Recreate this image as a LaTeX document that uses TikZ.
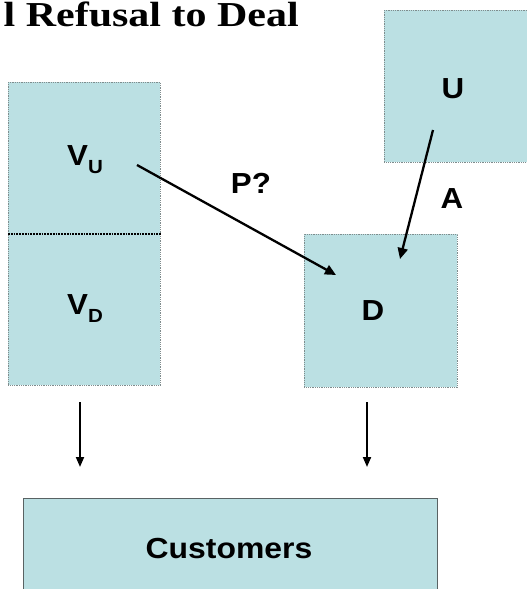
\documentclass[tikz,border=0pt]{standalone}
\usepackage{fontspec}
\setmainfont{Liberation Serif}
\newfontfamily\arialfont{Liberation Sans}
\usetikzlibrary{arrows.meta}
\definecolor{boxfill}{HTML}{BBE0E3}
\definecolor{boxline}{HTML}{7F8C8D}
\newcommand{\widen}[2]{\scalebox{#1}[1]{#2}}
\tikzset{
  x=1pt, y=-1pt,
  panel/.style={draw=boxline, densely dotted, line width=0.8pt, fill=boxfill, inner sep=0pt, anchor=north west},
  custpanel/.style={draw=boxline!70!black, line width=0.8pt, fill=boxfill, inner sep=0pt, anchor=north west},
  lbl/.style={font=\arialfont\bfseries\fontsize{29}{30}\selectfont, inner sep=0pt},
  conn/.style={line width=2.3pt, -{Triangle[length=11pt,width=10pt]}},
  vconn/.style={line width=1.9pt, -{Triangle[length=10pt,width=8pt]}},
}
\begin{document}
\begin{tikzpicture}
\useasboundingbox (0,0) rectangle (527,589);
\clip (0,0) rectangle (527,589);
% title
\node[anchor=base east, inner sep=0pt, font=\bfseries\fontsize{35}{38}\selectfont] (title) at (299,27) {\widen{1.2}{l Refusal to Deal}};
% boxes
\node[panel, minimum width=152pt, minimum height=303pt] (V) at (8,82) {};
\draw[densely dotted, line width=1.8pt] (V.west |- 0,234) coordinate (dl) -- (V.east |- 0,234) coordinate (dr);
\node[panel, minimum width=160pt, minimum height=152pt] (U) at (384,10) {};
\node[panel, minimum width=153pt, minimum height=153pt] (D) at (304,234) {};
\node[custpanel, minimum width=414pt, minimum height=120pt] (C) at (23,498) {};
% labels
\node[lbl, anchor=base] (vu) at (85,165) {\widen{1.08}{V\raisebox{-8pt}{\fontsize{19}{21}\selectfont U}}};
\node[lbl, anchor=base] (vd) at (85,314) {\widen{1.08}{V\raisebox{-8pt}{\fontsize{19}{21}\selectfont D}}};
\node[lbl, anchor=base] (ul) at (453,98) {\widen{1.08}{U}};
\node[lbl, anchor=base] (dlbl) at (373,320) {\widen{1.08}{D}};
\node[lbl, anchor=base] (al) at (452,208) {\widen{1.08}{A}};
\node[lbl, anchor=base] (pl) at (251,193) {\widen{1.08}{P?}};
\node[lbl, anchor=base] (cl) at (229,558) {\widen{1.1}{Customers}};
% connectors
\coordinate (p1) at (137,165);
\coordinate (p2) at (336,275);
\coordinate (u1) at (433,130);
\coordinate (u2) at (400,259);
\draw[conn] (p1) -- (p2);
\draw[conn] (u1) -- (u2);
\coordinate (l1) at (80,402);
\coordinate (l2) at (80,467);
\coordinate (r1) at (367,402);
\coordinate (r2) at (367,467);
\draw[vconn] (l1) -- (l2);
\draw[vconn] (r1) -- (r2);
\end{tikzpicture}
\end{document}
